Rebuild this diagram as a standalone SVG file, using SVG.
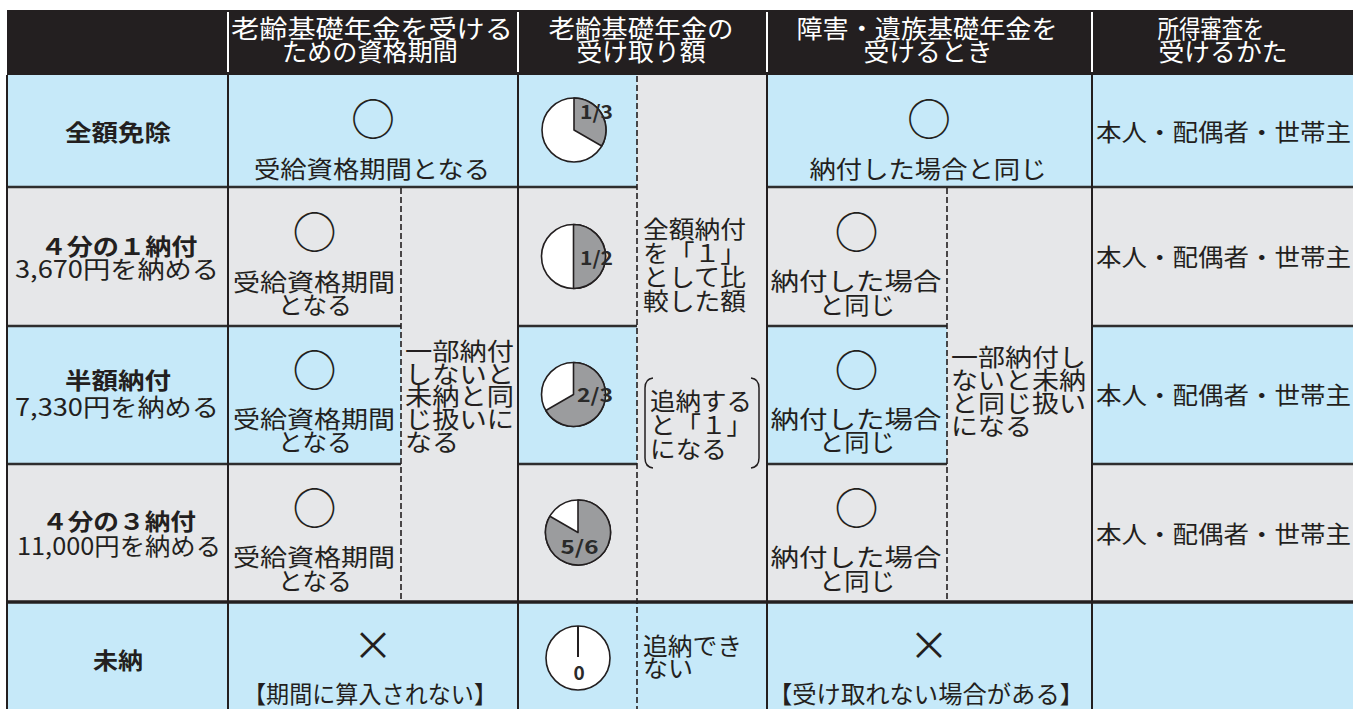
<svg xmlns="http://www.w3.org/2000/svg" width="1353" height="709" viewBox="0 0 1353 709">
<style>
.t{font-family:"Noto Sans CJK JP","Noto Sans",sans-serif;font-size:24px;fill:#231f20}
.m{text-anchor:middle}
.w{fill:#ffffff;font-size:25px;font-weight:400}
.b{font-weight:700;font-size:23px}
.n{font-size:19px;font-weight:700;fill:#2a2a2a}
.sym{font-family:"Noto Sans CJK JP","DejaVu Sans",sans-serif;fill:#231f20;text-anchor:middle}
.blue{fill:#c6e9f9}
.gray{fill:#e6e7e9}
.hl{stroke:#2e2e2e;stroke-width:2.5;fill:none}
.vl{stroke:#231f20;stroke-width:2;fill:none}
.dl{stroke:#231f20;stroke-width:1.6;stroke-dasharray:6 3;fill:none}
.pie{fill:#ffffff;stroke:#231f20;stroke-width:1.6}
.pg{fill:#9b9c9e;stroke:#231f20;stroke-width:1.6;stroke-linejoin:round}
.br{fill:none;stroke:#231f20;stroke-width:1.5}
</style>

<g id="backgrounds">
  <rect x="7" y="10" width="1346" height="65" fill="#231f20"/>
  <rect class="blue" x="7" y="75" width="630" height="112"/>
  <rect class="gray" x="637" y="75" width="130" height="527"/>
  <rect class="blue" x="767" y="75" width="586" height="112"/>
  <rect class="gray" x="7" y="187" width="630" height="139"/>
  <rect class="gray" x="767" y="187" width="586" height="139"/>
  <rect class="blue" x="7" y="326" width="394" height="138"/>
  <rect class="gray" x="401" y="187" width="117" height="415"/>
  <rect class="blue" x="518" y="326" width="119" height="138"/>
  <rect class="blue" x="767" y="326" width="180" height="138"/>
  <rect class="gray" x="947" y="187" width="145" height="415"/>
  <rect class="blue" x="1092" y="326" width="261" height="138"/>
  <rect class="gray" x="7" y="464" width="394" height="138"/>
  <rect class="gray" x="518" y="464" width="119" height="138"/>
  <rect class="gray" x="767" y="464" width="180" height="138"/>
  <rect class="gray" x="1092" y="464" width="261" height="138"/>
  <rect class="blue" x="7" y="602" width="1346" height="107"/>
</g>

<g id="connectors">
  <g stroke="#ffffff" stroke-width="2">
    <line x1="228" y1="12" x2="228" y2="72"/>
    <line x1="518" y1="12" x2="518" y2="72"/>
    <line x1="767" y1="12" x2="767" y2="72"/>
    <line x1="1092" y1="12" x2="1092" y2="72"/>
  </g>
  <path class="hl" d="M7,187H637M767,187H1353M7,326H401M518,326H637M767,326H947M1092,326H1353M7,464H401M518,464H637M767,464H947M1092,464H1353"/>
  <path class="vl" d="M7,75V709M228,75V709M518,75V709M767,75V709M1092,75V709"/>
  <path class="dl" d="M401,188V601M637,76V709M947,188V601"/>
  <path d="M7,602H1353" stroke="#231f20" stroke-width="3.5"/>
</g>

<g id="header">
  <text class="t w m" x="372" y="38" textLength="282" lengthAdjust="spacingAndGlyphs">老齢基礎年金を受ける</text>
  <text class="t w m" x="370" y="61" textLength="176" lengthAdjust="spacingAndGlyphs">ための資格期間</text>
  <text class="t w m" x="641" y="38" textLength="185" lengthAdjust="spacingAndGlyphs">老齢基礎年金の</text>
  <text class="t w m" x="641" y="61" textLength="129" lengthAdjust="spacingAndGlyphs">受け取り額</text>
  <text class="t w m" x="927" y="38" textLength="261" lengthAdjust="spacingAndGlyphs">障害・遺族基礎年金を</text>
  <text class="t w m" x="928" y="61" textLength="129" lengthAdjust="spacingAndGlyphs">受けるとき</text>
  <text class="t w m" x="1211" y="38" textLength="107" lengthAdjust="spacingAndGlyphs">所得審査を</text>
  <text class="t w m" x="1223" y="61" textLength="129" lengthAdjust="spacingAndGlyphs">受けるかた</text>
</g>

<g id="row-labels">
  <text class="t b m" x="118" y="141" textLength="106" lengthAdjust="spacingAndGlyphs">全額免除</text>
  <text class="t b m" x="119" y="255" textLength="157" lengthAdjust="spacingAndGlyphs">４分の１納付</text>
  <text class="t m" x="117" y="278" textLength="204" lengthAdjust="spacingAndGlyphs">3,670円を納める</text>
  <text class="t b m" x="118" y="389" textLength="106" lengthAdjust="spacingAndGlyphs">半額納付</text>
  <text class="t m" x="117" y="416" textLength="204" lengthAdjust="spacingAndGlyphs">7,330円を納める</text>
  <text class="t b m" x="119" y="530" textLength="154" lengthAdjust="spacingAndGlyphs">４分の３納付</text>
  <text class="t m" x="119" y="555" textLength="204" lengthAdjust="spacingAndGlyphs">11,000円を納める</text>
  <text class="t b m" x="118" y="669" textLength="50" lengthAdjust="spacingAndGlyphs">未納</text>
</g>

<g id="col-period">
  <text class="sym" x="373" y="136" font-size="44">○</text>
  <text class="t m" x="372" y="178" textLength="236" lengthAdjust="spacingAndGlyphs">受給資格期間となる</text>
  <text class="sym" x="314.5" y="249" font-size="44">○</text>
  <text class="t m" x="314" y="291" textLength="162" lengthAdjust="spacingAndGlyphs">受給資格期間</text>
  <text class="t m" x="315" y="314" textLength="74" lengthAdjust="spacingAndGlyphs">となる</text>
  <text class="sym" x="314.5" y="387" font-size="44">○</text>
  <text class="t m" x="314" y="428" textLength="162" lengthAdjust="spacingAndGlyphs">受給資格期間</text>
  <text class="t m" x="315" y="451" textLength="74" lengthAdjust="spacingAndGlyphs">となる</text>
  <text class="sym" x="314.5" y="525" font-size="44">○</text>
  <text class="t m" x="314" y="566" textLength="162" lengthAdjust="spacingAndGlyphs">受給資格期間</text>
  <text class="t m" x="315" y="590" textLength="74" lengthAdjust="spacingAndGlyphs">となる</text>
  <text class="t" x="405" y="360" textLength="109" lengthAdjust="spacingAndGlyphs">一部納付</text>
  <text class="t" x="405" y="383" textLength="109" lengthAdjust="spacingAndGlyphs">しないと</text>
  <text class="t" x="405" y="405" textLength="109" lengthAdjust="spacingAndGlyphs">未納と同</text>
  <text class="t" x="405" y="428" textLength="109" lengthAdjust="spacingAndGlyphs">じ扱いに</text>
  <text class="t" x="405" y="451" textLength="54" lengthAdjust="spacingAndGlyphs">なる</text>
  <text class="sym" x="373" y="660" font-size="40">×</text>
  <text class="t m" x="370" y="703" textLength="254" lengthAdjust="spacingAndGlyphs">【期間に算入されない】</text>
</g>

<g id="col-amount">
  <circle class="pie" cx="574" cy="130" r="32"/>
  <path class="pg" d="M574,130L574,98A32,32 0 0 1 601.7,146Z"/>
  <text class="t n" x="580" y="119" textLength="33" lengthAdjust="spacingAndGlyphs">1/3</text>
  <circle class="pie" cx="573.5" cy="256.5" r="32"/>
  <path class="pg" d="M573.5,256.5L573.5,224.5A32,32 0 0 1 573.5,288.5Z"/>
  <text class="t n" x="580" y="265" textLength="33" lengthAdjust="spacingAndGlyphs">1/2</text>
  <circle class="pie" cx="573.5" cy="394.5" r="32"/>
  <path class="pg" d="M573.5,394.5L573.5,362.5A32,32 0 1 1 545.8,410.5Z"/>
  <text class="t n" x="577" y="402" textLength="36" lengthAdjust="spacingAndGlyphs">2/3</text>
  <circle class="pie" cx="578" cy="532.5" r="32.5"/>
  <path class="pg" d="M578,532.5L578,500A32.5,32.5 0 1 1 549.9,516.2Z"/>
  <text class="t n m" x="579.5" y="554" textLength="38" lengthAdjust="spacingAndGlyphs">5/6</text>
  <circle class="pie" cx="578" cy="658" r="32"/>
  <path d="M578,626V657" stroke="#231f20" stroke-width="2"/>
  <text class="t n m" x="579" y="680">0</text>
  <text class="t" x="643" y="238" textLength="103" lengthAdjust="spacingAndGlyphs">全額納付</text>
  <text class="t" x="643" y="262" textLength="103" lengthAdjust="spacingAndGlyphs">を「１」</text>
  <text class="t" x="643" y="286" textLength="103" lengthAdjust="spacingAndGlyphs">として比</text>
  <text class="t" x="643" y="310" textLength="103" lengthAdjust="spacingAndGlyphs">較した額</text>
  <path class="br" d="M653,378Q645,379 645,388L645,458Q645,467 653,468M751,378Q759,379 759,388L759,458Q759,467 751,468"/>
  <text class="t" x="650" y="410" textLength="102" lengthAdjust="spacingAndGlyphs">追納する</text>
  <text class="t" x="650" y="434" textLength="102" lengthAdjust="spacingAndGlyphs">と「１」</text>
  <text class="t" x="650" y="458" textLength="77" lengthAdjust="spacingAndGlyphs">になる</text>
  <text class="t" x="643" y="655" textLength="99" lengthAdjust="spacingAndGlyphs">追納でき</text>
  <text class="t" x="643" y="677" textLength="50" lengthAdjust="spacingAndGlyphs">ない</text>
</g>

<g id="col-disability">
  <text class="sym" x="929" y="136" font-size="44">○</text>
  <text class="t m" x="928" y="178" textLength="237" lengthAdjust="spacingAndGlyphs">納付した場合と同じ</text>
  <text class="sym" x="856.5" y="249" font-size="44">○</text>
  <text class="t m" x="856" y="290" textLength="171" lengthAdjust="spacingAndGlyphs">納付した場合</text>
  <text class="t m" x="857" y="314" textLength="76" lengthAdjust="spacingAndGlyphs">と同じ</text>
  <text class="sym" x="856.5" y="387" font-size="44">○</text>
  <text class="t m" x="856" y="428" textLength="171" lengthAdjust="spacingAndGlyphs">納付した場合</text>
  <text class="t m" x="857" y="451" textLength="76" lengthAdjust="spacingAndGlyphs">と同じ</text>
  <text class="sym" x="856.5" y="525" font-size="44">○</text>
  <text class="t m" x="856" y="566" textLength="171" lengthAdjust="spacingAndGlyphs">納付した場合</text>
  <text class="t m" x="857" y="590" textLength="76" lengthAdjust="spacingAndGlyphs">と同じ</text>
  <text class="t" x="951" y="366" textLength="135" lengthAdjust="spacingAndGlyphs">一部納付し</text>
  <text class="t" x="951" y="389" textLength="135" lengthAdjust="spacingAndGlyphs">ないと未納</text>
  <text class="t" x="951" y="412" textLength="135" lengthAdjust="spacingAndGlyphs">と同じ扱い</text>
  <text class="t" x="951" y="435" textLength="81" lengthAdjust="spacingAndGlyphs">になる</text>
  <text class="sym" x="929" y="660" font-size="40">×</text>
  <text class="t m" x="926" y="703" textLength="316" lengthAdjust="spacingAndGlyphs">【受け取れない場合がある】</text>
</g>

<g id="col-income">
  <text class="t" x="1096" y="141" textLength="255" lengthAdjust="spacingAndGlyphs">本人・配偶者・世帯主</text>
  <text class="t" x="1096" y="266" textLength="255" lengthAdjust="spacingAndGlyphs">本人・配偶者・世帯主</text>
  <text class="t" x="1096" y="404" textLength="255" lengthAdjust="spacingAndGlyphs">本人・配偶者・世帯主</text>
  <text class="t" x="1096" y="543" textLength="255" lengthAdjust="spacingAndGlyphs">本人・配偶者・世帯主</text>
</g>
</svg>
